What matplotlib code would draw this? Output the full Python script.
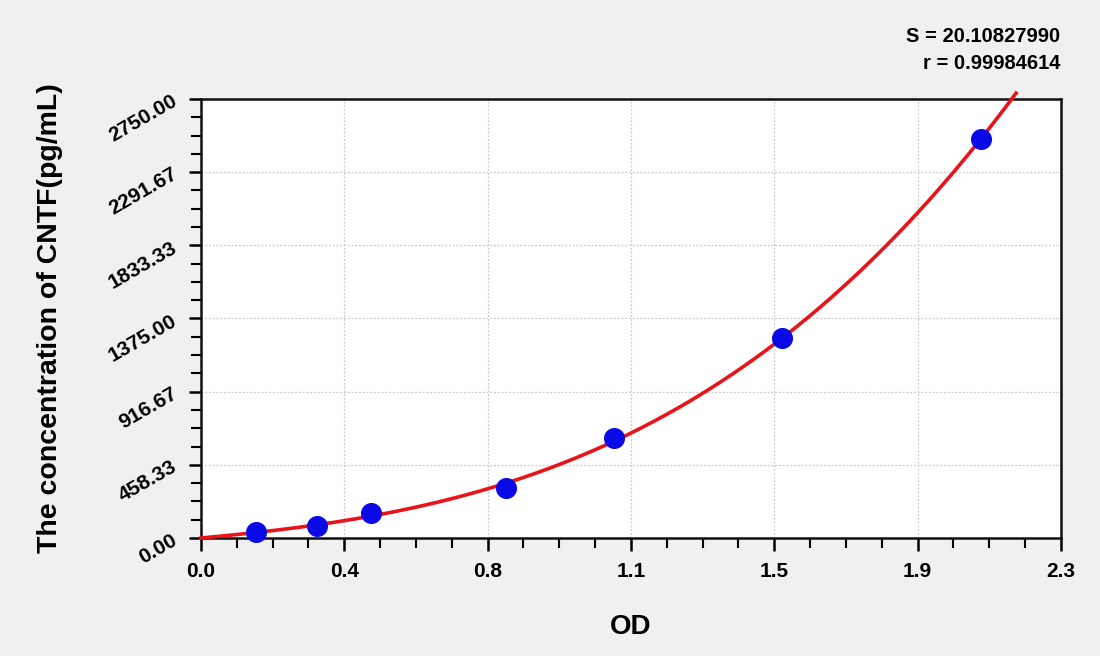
import numpy as np
import matplotlib
matplotlib.use("Agg")
import matplotlib.pyplot as plt
from matplotlib.ticker import MultipleLocator, AutoMinorLocator, FuncFormatter

# standards
od = [0.147, 0.310, 0.455, 0.816, 1.105, 1.554, 2.086]
conc = [39.06, 78.13, 156.25, 312.5, 625, 1250, 2500]

s_text = "S = 20.10827990"
r_text = "r = 0.99984614"
x_label = "OD"
y_label = "The concentration of CNTF(pg/mL)"

x_max = 2.3
y_max = 2750.0

plt.rcParams['font.family'] = ['Liberation Sans', 'DejaVu Sans']
plt.rcParams['font.weight'] = 'bold'

fig = plt.figure(figsize=(11, 6.56), dpi=100, facecolor='#f0f0f0')
ax = fig.add_axes([0.1827, 0.1799, 0.7818, 0.6692])
ax.set_facecolor('white')

# fit through origin: y = a x + b x^2 + c x^3
x = np.array(od)
y = np.array(conc)
A = np.vstack([x, x ** 2, x ** 3]).T
coef, *_ = np.linalg.lstsq(A, y, rcond=None)
xf = np.linspace(0, 2.18, 300)
yf = coef[0] * xf + coef[1] * xf ** 2 + coef[2] * xf ** 3
ax.plot(xf, yf, color='#e8141a', lw=2.6, clip_on=False, zorder=3)
ax.scatter(od, conc, s=200, color='#0a0ae6', zorder=4, clip_on=False)

ax.set_xlim(0, x_max)
ax.set_ylim(0, y_max)
ax.xaxis.set_major_locator(MultipleLocator(x_max / 6))
ax.yaxis.set_major_locator(MultipleLocator(y_max / 6))
ax.xaxis.set_minor_locator(AutoMinorLocator(4))
ax.yaxis.set_minor_locator(AutoMinorLocator(4))


def fmt_x(v, p):
    s = "%.1f" % (v - 1e-9)
    return "0.0" if s == "-0.0" else s


ax.xaxis.set_major_formatter(FuncFormatter(fmt_x))
ax.yaxis.set_major_formatter(FuncFormatter(lambda v, p: "%.2f" % abs(v)))

ax.grid(True, which='major', color='#c8c8c8', ls=(0, (1.5, 1.5)), lw=0.9)
for sp in ax.spines.values():
    sp.set_linewidth(1.8)
    sp.set_color('#111111')

ax.tick_params(which='major', length=9, width=1.8, direction='out', labelsize=15, pad=6)
ax.tick_params(which='minor', length=7, width=1.5, direction='out')
ax.tick_params(axis='x', which='major', pad=8)
for lab in ax.get_yticklabels():
    lab.set_rotation(30)
    lab.set_fontweight('bold')
for lab in ax.get_xticklabels():
    lab.set_fontweight('bold')

ax.set_xlabel(x_label, fontsize=20, fontweight='bold', labelpad=24)
ax.set_ylabel(y_label, fontsize=20.5, fontweight='bold', labelpad=30)

fig.text(0.9636, 0.945, s_text, ha='right', va='center', fontsize=14.5, fontweight='bold')
fig.text(0.9636, 0.903, r_text, ha='right', va='center', fontsize=14.5, fontweight='bold')

fig.savefig("out.png", dpi=100, facecolor=fig.get_facecolor())
